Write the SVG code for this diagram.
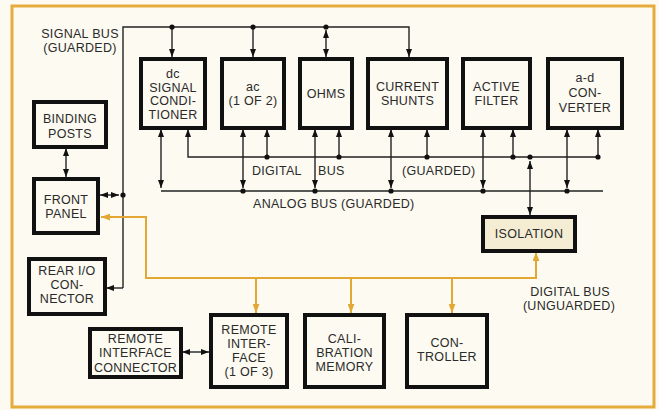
<svg xmlns="http://www.w3.org/2000/svg" width="659" height="410" viewBox="0 0 659 410">
<defs>
<style>
.bg{fill:#fcfaf1}
.frame{fill:none;stroke:#e5ac3c;stroke-width:3}
.box{fill:#fcfaf1;stroke:#111;stroke-width:4}
.iso{fill:#f4edd3;stroke:#111;stroke-width:4}
.ln{fill:none;stroke:#222;stroke-width:1.4}
.or{fill:none;stroke:#e3a834;stroke-width:2}
.dot{fill:#111}
text{font-family:"Liberation Sans",Arial,sans-serif;font-size:12.5px;fill:#2a2a2a;letter-spacing:0.3px}
.c{text-anchor:middle}
</style>
<marker id="a" viewBox="0 0 8 6" refX="8" refY="3" markerWidth="8" markerHeight="6" markerUnits="userSpaceOnUse" orient="auto-start-reverse">
<path d="M0,0 L8,3 L0,6 z" fill="#111"/>
</marker>
<marker id="ao" viewBox="0 0 8 6" refX="8" refY="3" markerWidth="9" markerHeight="7" markerUnits="userSpaceOnUse" orient="auto-start-reverse">
<path d="M0,0 L8,3 L0,6 z" fill="#e3a834"/>
</marker>
</defs>
<rect class="bg" x="0" y="0" width="659" height="410"/>
<rect class="frame" x="12" y="6" width="642" height="401"/>

<g id="connectors">
<!-- signal bus -->
<path class="ln" d="M123,288 V27 H409 V57" marker-end="url(#a)"/>
<line class="ln" x1="172" y1="27" x2="172" y2="57" marker-end="url(#a)"/>
<line class="ln" x1="253" y1="27" x2="253" y2="57" marker-end="url(#a)"/>
<line class="ln" x1="326" y1="30" x2="326" y2="57" marker-start="url(#a)" marker-end="url(#a)"/>
<circle class="dot" cx="172" cy="27" r="2.6"/>
<circle class="dot" cx="253" cy="27" r="2.6"/>
<circle class="dot" cx="326" cy="27" r="2.6"/>
<line class="ln" x1="123" y1="288" x2="106" y2="288" marker-end="url(#a)"/>
<line class="ln" x1="100" y1="195" x2="119" y2="195" marker-start="url(#a)" marker-end="url(#a)"/>
<circle class="dot" cx="123" cy="195" r="2.6"/>
<line class="ln" x1="66" y1="148" x2="66" y2="177" marker-start="url(#a)" marker-end="url(#a)"/>
<!-- digital bus guarded -->
<path class="ln" d="M188,129 V157 H599" marker-start="url(#a)"/>
<!-- analog bus guarded -->
<line class="ln" x1="161" y1="129" x2="161" y2="188" marker-start="url(#a)" marker-end="url(#a)"/>
<line class="ln" x1="161" y1="191" x2="603" y2="191"/>
<!-- drops to analog -->
<line class="ln" x1="243" y1="129" x2="243" y2="188" marker-start="url(#a)" marker-end="url(#a)"/>
<line class="ln" x1="315" y1="129" x2="315" y2="188" marker-start="url(#a)" marker-end="url(#a)"/>
<line class="ln" x1="391" y1="129" x2="391" y2="188" marker-start="url(#a)" marker-end="url(#a)"/>
<line class="ln" x1="483" y1="129" x2="483" y2="188" marker-start="url(#a)" marker-end="url(#a)"/>
<line class="ln" x1="567" y1="129" x2="567" y2="188" marker-start="url(#a)" marker-end="url(#a)"/>
<circle class="dot" cx="243" cy="191" r="2.6"/>
<circle class="dot" cx="315" cy="191" r="2.6"/>
<circle class="dot" cx="391" cy="191" r="2.6"/>
<circle class="dot" cx="483" cy="191" r="2.6"/>
<circle class="dot" cx="567" cy="191" r="2.6"/>
<!-- drops to digital -->
<line class="ln" x1="267" y1="129" x2="267" y2="157" marker-start="url(#a)"/>
<line class="ln" x1="339" y1="129" x2="339" y2="157" marker-start="url(#a)"/>
<line class="ln" x1="427" y1="129" x2="427" y2="157" marker-start="url(#a)"/>
<line class="ln" x1="513" y1="129" x2="513" y2="157" marker-start="url(#a)"/>
<line class="ln" x1="598" y1="129" x2="598" y2="157" marker-start="url(#a)"/>
<circle class="dot" cx="267" cy="157" r="2.6"/>
<circle class="dot" cx="339" cy="157" r="2.6"/>
<circle class="dot" cx="427" cy="157" r="2.6"/>
<circle class="dot" cx="513" cy="157" r="2.6"/>
<circle class="dot" cx="598" cy="157" r="2.6"/>
<!-- isolation link -->
<line class="ln" x1="530" y1="161" x2="530" y2="215" marker-start="url(#a)" marker-end="url(#a)"/>
<circle class="dot" cx="530" cy="157" r="2.6"/>
<!-- remote connector link -->
<line class="ln" x1="182" y1="352" x2="209" y2="352" marker-start="url(#a)" marker-end="url(#a)"/>
<!-- unguarded digital bus -->
<path class="or" d="M536,252 V278 H146 V217 H101" marker-start="url(#ao)" marker-end="url(#ao)"/>
<line class="or" x1="256" y1="278" x2="256" y2="313" marker-end="url(#ao)"/>
<line class="or" x1="351" y1="278" x2="351" y2="313" marker-end="url(#ao)"/>
<line class="or" x1="452" y1="278" x2="452" y2="313" marker-end="url(#ao)"/>
</g>

<g id="dc-signal-conditioner">
<rect class="box" x="141" y="59" width="64" height="69"/>
<text class="c" x="173" y="78">dc</text>
<text class="c" x="173" y="91.5">SIGNAL</text>
<text class="c" x="173" y="105">CONDI-</text>
<text class="c" x="173" y="118.5">TIONER</text>
</g>
<g id="ac">
<rect class="box" x="222" y="59" width="62" height="69"/>
<text class="c" x="253" y="91">ac</text>
<text class="c" x="253" y="105">(1 OF 2)</text>
</g>
<g id="ohms">
<rect class="box" x="300" y="59" width="52" height="69"/>
<text class="c" x="326" y="98">OHMS</text>
</g>
<g id="current-shunts">
<rect class="box" x="368" y="59" width="79" height="69"/>
<text class="c" x="407.5" y="91">CURRENT</text>
<text class="c" x="407.5" y="105">SHUNTS</text>
</g>
<g id="active-filter">
<rect class="box" x="463" y="59" width="67" height="69"/>
<text class="c" x="496.5" y="91">ACTIVE</text>
<text class="c" x="496.5" y="105">FILTER</text>
</g>
<g id="ad-converter">
<rect class="box" x="548" y="59" width="74" height="69"/>
<text class="c" x="585" y="82">a-d</text>
<text class="c" x="585" y="97">CON-</text>
<text class="c" x="585" y="112">VERTER</text>
</g>
<g id="binding-posts">
<rect class="box" x="34" y="102" width="72" height="45"/>
<text class="c" x="70" y="123">BINDING</text>
<text class="c" x="70" y="138">POSTS</text>
</g>
<g id="front-panel">
<rect class="box" x="34" y="179" width="64" height="54"/>
<text class="c" x="66" y="204">FRONT</text>
<text class="c" x="66" y="218">PANEL</text>
</g>
<g id="rear-io-connector">
<rect class="box" x="29" y="259" width="76" height="55"/>
<text class="c" x="67" y="275">REAR I/O</text>
<text class="c" x="67" y="289">CON-</text>
<text class="c" x="67" y="303">NECTOR</text>
</g>
<g id="isolation">
<rect class="iso" x="483" y="217" width="92" height="34"/>
<text class="c" x="529" y="238">ISOLATION</text>
</g>
<g id="remote-interface-connector">
<rect class="box" x="90" y="329" width="91" height="48"/>
<text class="c" x="135.5" y="343">REMOTE</text>
<text class="c" x="135.5" y="357">INTERFACE</text>
<text class="c" x="135.5" y="371.5">CONNECTOR</text>
</g>
<g id="remote-interface">
<rect class="box" x="211" y="315" width="76" height="72"/>
<text class="c" x="249" y="334">REMOTE</text>
<text class="c" x="249" y="348">INTER-</text>
<text class="c" x="249" y="362">FACE</text>
<text class="c" x="249" y="376">(1 OF 3)</text>
</g>
<g id="calibration-memory">
<rect class="box" x="305" y="315" width="79" height="72"/>
<text class="c" x="344.5" y="343">CALI-</text>
<text class="c" x="344.5" y="357">BRATION</text>
<text class="c" x="344.5" y="371">MEMORY</text>
</g>
<g id="controller">
<rect class="box" x="407" y="315" width="80" height="72"/>
<text class="c" x="447" y="346.5">CON-</text>
<text class="c" x="447" y="360.5">TROLLER</text>
</g>

<g id="labels">
<text class="c" x="80" y="38">SIGNAL BUS</text>
<text class="c" x="80" y="52">(GUARDED)</text>
<text x="252" y="175">DIGITAL</text>
<text x="318" y="175">BUS</text>
<text x="402" y="175">(GUARDED)</text>
<text x="253" y="208">ANALOG BUS (GUARDED)</text>
<text class="c" x="570" y="296">DIGITAL BUS</text>
<text class="c" x="569" y="310">(UNGUARDED)</text>
</g>
</svg>
